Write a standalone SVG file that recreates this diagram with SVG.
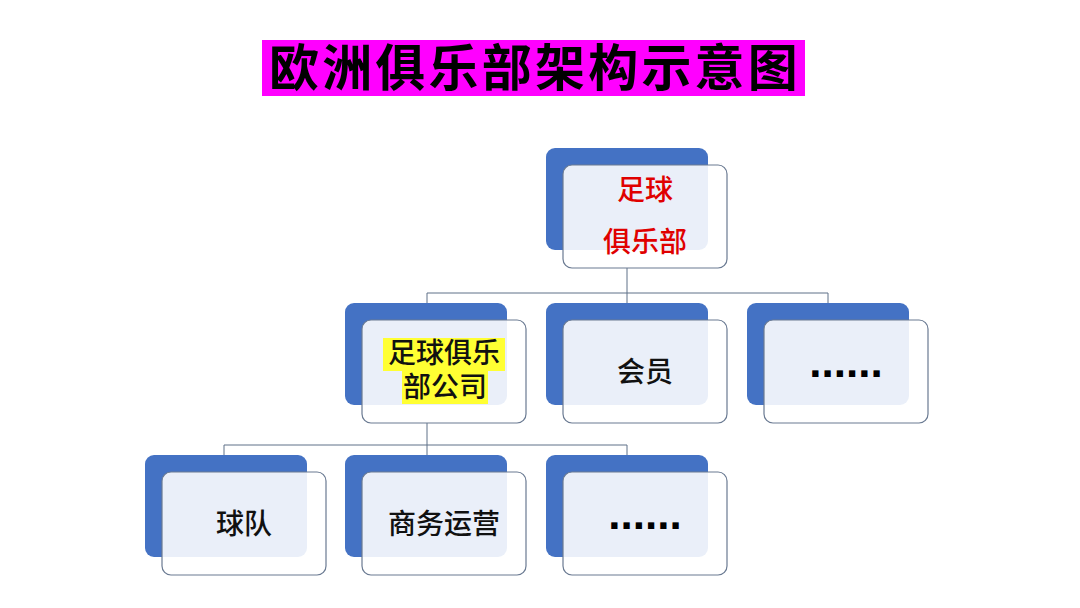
<svg xmlns="http://www.w3.org/2000/svg" width="1080" height="608" viewBox="0 0 1080 608">
<style>
.back{fill:#4472C4;}
.front{fill:#ffffff;fill-opacity:0.89;stroke:#6a7a92;stroke-width:1.2;}
.t{font-family:"Noto Sans CJK SC","Noto Sans",sans-serif;font-size:28px;font-weight:500;fill:#111;text-anchor:middle;}
.red{fill:#e00000;}
.dots{font-family:"Liberation Sans",Arial,sans-serif;font-weight:bold;font-size:44px;fill:#000;text-anchor:middle;}
.conn{fill:none;stroke:#5f7088;stroke-width:1;}
</style>
<rect width="1080" height="608" fill="#ffffff"/>
<g id="title">
<rect x="262" y="40" width="543" height="56" fill="#ff00ff"/>
<text x="535" y="86" font-family="Noto Sans CJK SC,sans-serif" font-weight="bold" font-size="50" letter-spacing="3.2" text-anchor="middle" fill="#000">欧洲俱乐部架构示意图</text>
</g>
<g id="connectors">
<path class="conn" d="M627 268 V293 M427 293 H828 M427 293 V303 M627 293 V303 M828 293 V303"/>
<path class="conn" d="M427 423 V445 M224 445 H627 M224 445 V455 M427 445 V455 M627 445 V455"/>
</g>
<g id="club">
<rect class="back" x="546" y="148" width="162" height="102" rx="9"/>
<rect class="front" x="563" y="165" width="164" height="103" rx="9"/>
<text class="t red" x="645" y="200" font-size="29">足球</text>
<text class="t red" x="645" y="252" font-size="30">俱乐部</text>
</g>
<g id="company">
<rect class="back" x="345" y="303" width="162" height="102" rx="9"/>
<rect class="front" x="362" y="320" width="164" height="103" rx="9"/>
<rect x="383" y="338" width="122" height="33" fill="#ffff33"/>
<rect x="402" y="371" width="86" height="33" fill="#ffff33"/>
<text class="t" font-size="27" fill="#222"><tspan x="444" y="363">足球俱乐</tspan><tspan x="445" y="397">部公司</tspan></text>
</g>
<g id="members">
<rect class="back" x="546" y="303" width="162" height="102" rx="9"/>
<rect class="front" x="563" y="320" width="164" height="103" rx="9"/>
<text class="t" x="645" y="382">会员</text>
</g>
<g id="more1">
<rect class="back" x="747" y="303" width="162" height="102" rx="9"/>
<rect class="front" x="764" y="320" width="164" height="103" rx="9"/>
<text class="dots" x="846" y="377">......</text>
</g>
<g id="team">
<rect class="back" x="145" y="455" width="162" height="102" rx="9"/>
<rect class="front" x="162" y="472" width="164" height="103" rx="9"/>
<text class="t" x="244" y="534">球队</text>
</g>
<g id="business">
<rect class="back" x="345" y="455" width="162" height="102" rx="9"/>
<rect class="front" x="362" y="472" width="164" height="103" rx="9"/>
<text class="t" x="444" y="534">商务运营</text>
</g>
<g id="more2">
<rect class="back" x="546" y="455" width="162" height="102" rx="9"/>
<rect class="front" x="563" y="472" width="164" height="103" rx="9"/>
<text class="dots" x="645" y="529">......</text>
</g>
</svg>
